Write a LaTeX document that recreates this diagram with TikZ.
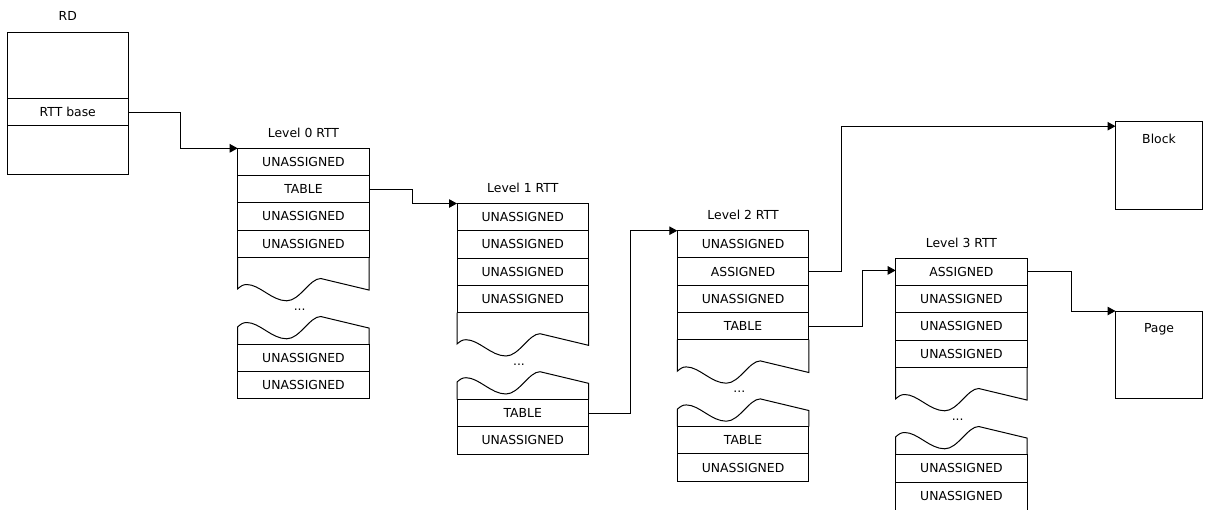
\documentclass[tikz,border=0pt]{standalone}
\usepackage{fontspec}
\setmainfont{DejaVu Sans}
\usetikzlibrary{arrows.meta,calc}

\tikzset{
  cell/.style={draw, line width=1pt, outer sep=0pt, inner sep=0pt,
    minimum width=131.5pt, minimum height=27.25pt, anchor=north west,
    font=\fontsize{12.4}{14}\selectfont, text height=9pt, text depth=0pt},
  rdcell/.style={cell, minimum width=121pt},
  endbox/.style={draw, line width=1pt, outer sep=0pt, inner sep=0pt,
    minimum width=87pt, minimum height=87.3pt, anchor=north west},
  caption/.style={font=\fontsize{12.4}{14}\selectfont, inner sep=0pt},
  link/.style={line width=1pt, -{Triangle[length=8pt,width=8.5pt]}},
  % open lower end of the first block of entries, with a torn edge
  tornend/.pic={
    \draw[line width=1pt] (0,0) -- (0,31.5)
      .. controls (3,29) and (5,27.2) .. (9,27.2)
      .. controls (22,27.2) and (34,43.5) .. (49,43.5)
      .. controls (62,43.5) and (72,21.2) .. (83,21.2)
      -- (131.5,32.8) -- (131.5,0);
    \node[caption, anchor=base] at (62,53) {...};
    \draw[line width=1pt] (0,87) -- (0,69.5)
      .. controls (3,67) and (5,65.2) .. (9,65.2)
      .. controls (22,65.2) and (34,81.5) .. (49,81.5)
      .. controls (62,81.5) and (72,59.2) .. (83,59.2)
      -- (131.5,70.8) -- (131.5,87);
  }
}

\begin{document}
\begin{tikzpicture}[x=1pt, y=-1pt]
\useasboundingbox (0,0) rectangle (1210,509);
\clip (0,0) rectangle (1210,509);

% realm descriptor
\node[rdcell, minimum height=66.3pt] (rdtop) at (7.3,32) {};
\node[rdcell, minimum height=27.4pt] (rdb) at (rdtop.south west) {RTT base};
\node[rdcell, minimum height=48.6pt] (rdbot) at (rdb.south west) {};
\node[caption] (rdlabel) at ($(rdtop.north)+(0,-16)$) {RD};

% level 0
\node[cell] (l0a) at (237.7,148.3) {UNASSIGNED};
\node[cell] (l0b) at (l0a.south west) {TABLE};
\node[cell] (l0c) at (l0b.south west) {UNASSIGNED};
\node[cell] (l0d) at (l0c.south west) {UNASSIGNED};
\pic at (l0d.south west) {tornend};
\node[cell] (l0e) at ($(l0d.south west)+(0,87)$) {UNASSIGNED};
\node[cell] (l0f) at (l0e.south west) {UNASSIGNED};
\node[caption] (l0label) at ($(l0a.north)+(0,-15.5)$) {Level 0 RTT};

% level 1
\node[cell] (l1a) at (457,203.5) {UNASSIGNED};
\node[cell] (l1b) at (l1a.south west) {UNASSIGNED};
\node[cell] (l1c) at (l1b.south west) {UNASSIGNED};
\node[cell] (l1d) at (l1c.south west) {UNASSIGNED};
\pic at (l1d.south west) {tornend};
\node[cell] (l1e) at ($(l1d.south west)+(0,87)$) {TABLE};
\node[cell] (l1f) at (l1e.south west) {UNASSIGNED};
\node[caption] (l1label) at ($(l1a.north)+(0,-15.5)$) {Level 1 RTT};

% level 2
\node[cell] (l2a) at (677.3,230.7) {UNASSIGNED};
\node[cell] (l2b) at (l2a.south west) {ASSIGNED};
\node[cell] (l2c) at (l2b.south west) {UNASSIGNED};
\node[cell] (l2d) at (l2c.south west) {TABLE};
\pic at (l2d.south west) {tornend};
\node[cell] (l2e) at ($(l2d.south west)+(0,87)$) {TABLE};
\node[cell] (l2f) at (l2e.south west) {UNASSIGNED};
\node[caption] (l2label) at ($(l2a.north)+(0,-15.5)$) {Level 2 RTT};

% level 3 (continues below the lower edge)
\node[cell] (l3a) at (895.7,258.3) {ASSIGNED};
\node[cell] (l3b) at (l3a.south west) {UNASSIGNED};
\node[cell] (l3c) at (l3b.south west) {UNASSIGNED};
\node[cell] (l3d) at (l3c.south west) {UNASSIGNED};
\pic at (l3d.south west) {tornend};
\node[cell] (l3e) at ($(l3d.south west)+(0,87.5)$) {UNASSIGNED};
\node[cell, minimum height=30pt, text depth=3pt] (l3f) at (l3e.south west) {UNASSIGNED};
\node[caption] (l3label) at ($(l3a.north)+(0,-15.5)$) {Level 3 RTT};

% output address targets
\node[endbox] (blk) at (1115.5,121.7) {};
\node[caption, anchor=base] (blklabel) at ($(blk.north)+(0,21.6)$) {Block};
\node[endbox] (page) at (1115.5,311) {};
\node[caption, anchor=base] (pagelabel) at ($(page.north)+(0,21.7)$) {Page};

% walk connectors
\draw[link] (rdb.east) -- ++(51.7,0) |- (l0a.north west);
\draw[link] (l0b.east) -- ++(43.5,0) |- (l1a.north west);
\draw[link] (l1e.east) -- ++(41.5,0) |- (l2a.north west);
\draw[link] (l2b.east) -- ++(32.5,0) |- ($(blk.north west)+(0,4.5)$);
\draw[link] (l2d.east) -- ++(54,0) |- ($(l3a.west)+(0,-1.5)$);
\draw[link] (l3a.east) -- ++(43.8,0) |- (page.north west);
\end{tikzpicture}
\end{document}
